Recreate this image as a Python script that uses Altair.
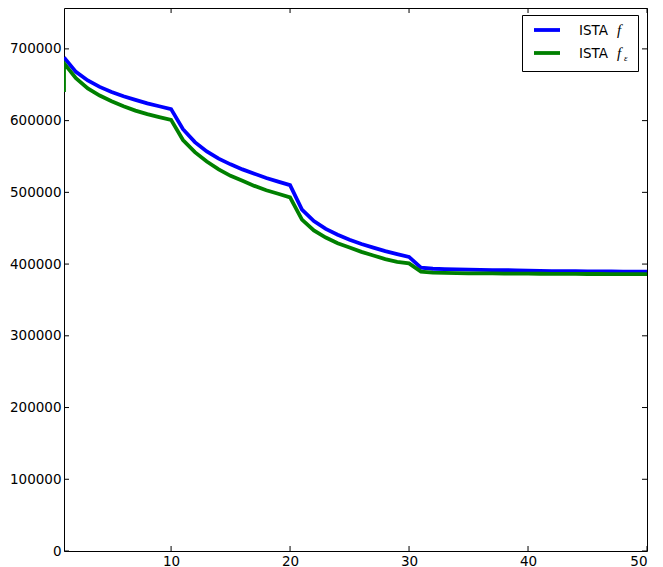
import altair as alt
import pandas as pd

# ---- data ----
iters = list(range(1, 51))
ista_f = [688000, 668000, 656000, 647000, 640000, 634000, 629000, 624000, 620000, 616000,
          588000, 570000, 557000, 547000, 539000, 532000, 526000, 520000, 515000, 510000,
          476000, 460000, 449000, 441000, 434000, 428000, 423000, 418000, 414000, 410000,
          395000, 393500, 393000, 392600, 392300, 392000, 391700, 391500, 391300, 391000,
          390500, 390300, 390100, 390000, 389900, 389800, 389700, 389600, 389500, 389400]
ista_feps = [680000, 659000, 645000, 635000, 627000, 620000, 614000, 609000, 605000, 601000,
             573000, 556000, 543000, 532000, 523000, 516000, 509000, 503000, 498000, 493000,
             462000, 447000, 437000, 429000, 423000, 417000, 412000, 407000, 403000, 401000,
             389500, 388000, 387600, 387300, 387100, 387000, 386900, 386800, 386700, 386600,
             386500, 386400, 386300, 386300, 386200, 386200, 386100, 386100, 386000, 386000]
# the green curve starts with a vertical segment at the first iteration
feps_start_x = 1
feps_start_y = 640000

x_ticks = [10, 20, 30, 40, 50]
y_ticks = [0, 100000, 200000, 300000, 400000, 500000, 600000, 700000]
x_domain = [1, 50]
y_domain = [0, 757000]

W, H = 583, 543
FONT = "DejaVu Sans"
LW = 3.8

blue_df = pd.DataFrame({"x": iters, "y": ista_f, "o": list(range(len(iters)))})
green_df = pd.DataFrame({"x": [feps_start_x] + iters,
                         "y": [feps_start_y] + ista_feps,
                         "o": list(range(len(iters) + 1))})

xs = alt.Scale(domain=x_domain, nice=False, zero=False)
ys = alt.Scale(domain=y_domain, nice=False, zero=False)

x_axis = alt.Axis(values=x_ticks, ticks=False, domain=False, grid=False,
                  labelPadding=3, labelFontSize=13.5, labelFont=FONT,
                  labelColor="black", title=None, format="d")
y_axis = alt.Axis(values=y_ticks, ticks=False, domain=False, grid=False,
                  labelPadding=3, labelFontSize=13.5, labelFont=FONT,
                  labelColor="black", title=None, format="d")

blue = alt.Chart(blue_df).mark_line(color="#0000ff", strokeWidth=LW, clip=True).encode(
    x=alt.X("x:Q", scale=xs, axis=x_axis),
    y=alt.Y("y:Q", scale=ys, axis=y_axis),
    order="o:Q",
)
green = alt.Chart(green_df).mark_line(color="#008000", strokeWidth=LW, clip=True).encode(
    x=alt.X("x:Q", scale=xs),
    y=alt.Y("y:Q", scale=ys),
    order="o:Q",
)

# inward ticks on all four sides
xt = pd.DataFrame({"x": x_ticks})
yt = pd.DataFrame({"y": y_ticks})
tick_style = dict(color="black", strokeWidth=1)
xt_bottom = alt.Chart(xt).mark_rule(**tick_style).encode(
    x=alt.X("x:Q", scale=xs), y=alt.value(H), y2=alt.value(H - 5))
xt_top = alt.Chart(xt).mark_rule(**tick_style).encode(
    x=alt.X("x:Q", scale=xs), y=alt.value(0), y2=alt.value(5))
yt_left = alt.Chart(yt).mark_rule(**tick_style).encode(
    y=alt.Y("y:Q", scale=ys), x=alt.value(0), x2=alt.value(5))
yt_right = alt.Chart(yt).mark_rule(**tick_style).encode(
    y=alt.Y("y:Q", scale=ys), x=alt.value(W), x2=alt.value(W - 5))

# custom legend (mathtext-style labels), anchored to the upper-right corner
one = pd.DataFrame({"a": [0]})
leg_box = alt.Chart(one).mark_rect(fill="white", stroke="black", strokeWidth=1).encode(
    x=alt.value(W - 124.5), x2=alt.value(W - 8.5), y=alt.value(7.5), y2=alt.value(63.5))
leg_blue = alt.Chart(one).mark_rule(color="#0000ff", strokeWidth=LW).encode(
    x=alt.value(W - 113), x2=alt.value(W - 87), y=alt.value(22))
leg_green = alt.Chart(one).mark_rule(color="#008000", strokeWidth=LW).encode(
    x=alt.value(W - 113), x2=alt.value(W - 87), y=alt.value(45))
txt_kw = dict(align="left", baseline="alphabetic", fontSize=13.5, font=FONT, color="black")
leg_t1 = alt.Chart(one).mark_text(**txt_kw).encode(
    x=alt.value(W - 68), y=alt.value(27), text=alt.value("ISTA"))
leg_t2 = alt.Chart(one).mark_text(**txt_kw).encode(
    x=alt.value(W - 68), y=alt.value(50), text=alt.value("ISTA"))
f_kw = dict(align="left", baseline="alphabetic", fontSize=15, font="Liberation Serif",
            fontStyle="italic", color="black")
leg_f1 = alt.Chart(one).mark_text(**f_kw).encode(
    x=alt.value(W - 30), y=alt.value(27), text=alt.value("f"))
leg_f2 = alt.Chart(one).mark_text(**f_kw).encode(
    x=alt.value(W - 30), y=alt.value(50), text=alt.value("f"))
leg_eps = alt.Chart(one).mark_text(align="left", baseline="alphabetic", fontSize=9,
                                   font="Liberation Serif", fontStyle="italic",
                                   color="black").encode(
    x=alt.value(W - 23), y=alt.value(53), text=alt.value("ε"))

chart = alt.layer(
    blue, green, xt_bottom, xt_top, yt_left, yt_right,
    leg_box, leg_blue, leg_green, leg_t1, leg_t2, leg_f1, leg_f2, leg_eps,
).properties(
    width=W, height=H,
    autosize=alt.AutoSizeParams(type="none"),
    padding={"left": 56, "top": 0, "right": 8, "bottom": 18},
    background="white",
).configure_view(
    stroke="black", strokeWidth=1,
)

chart.save("out.html", embed_options={"renderer": "svg", "actions": False})
